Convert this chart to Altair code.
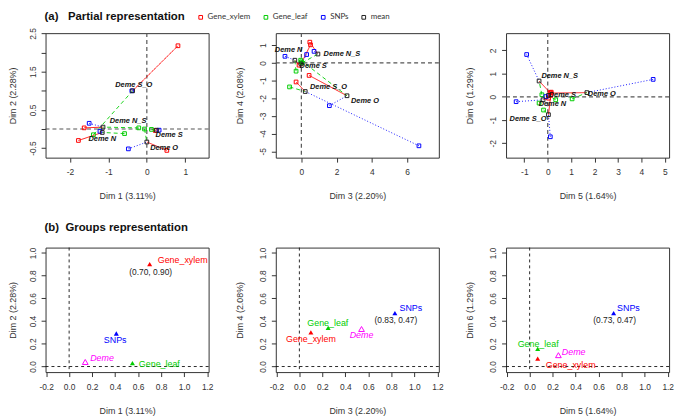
import altair as alt
import pandas as pd

FONT = "Liberation Sans"
W, H = 165, 126

# ---------------- data: (a) partial representation ----------------
demes = ["Deme N", "Deme S", "Deme O", "Deme N_S", "Deme S_O"]
groups = ["Gene_xylem", "Gene_leaf", "SNPs"]
group_colors = ["#FF0000", "#00CD00", "#0000FF"]
group_dashes = [[1, 0], [4, 3], [1, 2]]

# Dim 1 / Dim 2
d12_mean_x = [-1.16, 0.25, 0.00, -1.14, -0.37]
d12_mean_y = [-0.09, -0.03, -0.34, 0.05, 1.00]
d12_xylem_x = [-1.78, 0.22, 0.52, -1.63, 0.81]
d12_xylem_y = [-0.30, -0.04, -0.56, 0.03, 2.18]
d12_leaf_x = [-0.58, 0.12, -0.06, -0.21, -1.39]
d12_leaf_y = [-0.12, -0.01, 0.00, 0.03, -0.15]
d12_snps_x = [-1.22, 0.32, -0.48, -1.50, -0.39]
d12_snps_y = [-0.06, -0.03, -0.52, 0.15, 1.00]
d12_lab_x = [-1.16, 0.58, 0.45, -0.49, -0.34]
d12_lab_y = [-0.26, -0.17, -0.50, 0.20, 1.15]

# Dim 3 / Dim 4
d34_mean_x = [-0.37, -0.02, 2.59, 0.94, 0.22]
d34_mean_y = [0.15, -0.06, -1.86, 0.50, -1.62]
d34_xylem_x = [-0.13, 0.52, 0.44, 0.48, -0.30]
d34_xylem_y = [-0.13, 1.02, -0.71, 1.17, -1.08]
d34_leaf_x = [-0.30, 0.00, -0.04, 0.04, -0.67]
d34_leaf_y = [-0.47, 0.06, 0.15, 0.00, -1.36]
d34_snps_x = [-0.93, 0.30, 1.59, 0.72, 6.67]
d34_snps_y = [0.37, 0.47, -2.42, 0.65, -4.69]
d34_lab_x = [-0.72, 0.67, 3.61, 2.30, 1.54]
d34_lab_y = [0.71, -0.19, -2.18, 0.48, -1.34]

# Dim 5 / Dim 6
d56_mean_x = [-0.20, 0.03, 1.67, -0.37, 0.03]
d56_mean_y = [-0.13, 0.06, 0.18, 0.68, -0.77]
d56_xylem_x = [0.03, 0.15, 0.13, 0.10, 0.13]
d56_xylem_y = [-0.06, 0.20, 0.16, 0.18, 0.06]
d56_leaf_x = [-0.37, 0.34, 1.04, -0.25, -0.18]
d56_leaf_y = [-0.27, -0.13, -0.09, 0.09, -0.57]
d56_snps_x = [-1.35, -0.08, 4.50, -0.90, 0.11]
d56_snps_y = [-0.21, 0.01, 0.75, 1.82, -1.72]
d56_lab_x = [0.20, 0.62, 2.31, 0.51, -0.84]
d56_lab_y = [-0.31, 0.09, 0.14, 0.89, -0.94]

# ---------------- data: (b) groups representation ----------------
b_groups = ["Gene_xylem", "Gene_leaf", "SNPs", "Deme"]
b_colors = ["#FF0000", "#00CD00", "#0000FF", "#FF00FF"]

b12_x = [0.70, 0.55, 0.41, 0.14]
b12_y = [0.90, 0.03, 0.29, 0.04]
b12_lab_x = [0.77, 0.606, 0.40, 0.183]
b12_lab_y = [0.94, 0.023, 0.236, 0.072]
b12_lab_pos = ["right", "right", "center", "right"]
b12_coord = "Gene_xylem"

b34_x = [0.10, 0.25, 0.83, 0.54]
b34_y = [0.30, 0.34, 0.47, 0.33]
b34_lab_x = [0.10, 0.247, 0.87, 0.54]
b34_lab_y = [0.244, 0.38, 0.51, 0.28]
b34_lab_pos = ["center", "center", "right", "center"]
b34_coord = "SNPs"

b56_x = [0.07, 0.07, 0.73, 0.25]
b56_y = [0.07, 0.155, 0.47, 0.10]
b56_lab_x = [0.14, 0.074, 0.76, 0.28]
b56_lab_y = [0.014, 0.195, 0.51, 0.124]
b56_lab_pos = ["right", "center", "right", "right"]
b56_coord = "SNPs"

b_ticks = [-0.2, 0.0, 0.2, 0.4, 0.6, 0.8, 1.0, 1.2]
b_yticks = [0.0, 0.2, 0.4, 0.6, 0.8, 1.0]

NBSP = "\u00a0"
title_a = "(a)" + NBSP * 3 + "Partial representation"
title_b = "(b)" + NBSP * 2 + "Groups representation"


def lab_expr(fmt, skip_int=False):
    core = f"(datum.value < 0 ? '-' : '') + format(abs(datum.value), '{fmt}')"
    if skip_int:
        return f"abs(datum.value % 1) < 0.001 ? '' : {core}"
    return core


def encs(xdom, ydom, xvals, yvals, xfmt, yfmt, xtitle, ytitle, ytx, yskip=False):
    xe = alt.X("x:Q", scale=alt.Scale(domain=xdom, nice=False, zero=False),
               axis=alt.Axis(values=xvals, labelExpr=lab_expr(xfmt), title=xtitle,
                             titleX=W / 2, titleY=38.5))
    ye = alt.Y("y:Q", scale=alt.Scale(domain=ydom, nice=False, zero=False),
               axis=alt.Axis(values=yvals, labelExpr=lab_expr(yfmt, yskip), title=ytitle,
                             titleX=ytx, titleY=H / 2))
    return xe, ye


legend_a = alt.Legend(orient="none", legendX=153, legendY=-20, direction="horizontal",
                      title=None, symbolType="square", symbolSize=14, symbolStrokeWidth=1,
                      labelFont="Lato", labelFontSize=8, labelColor="#333",
                      columnPadding=11, labelOffset=3, padding=0)


def partial_panel(mx, my, pxy, lx, ly, xe, ye, with_legend, title=None):
    seg_rows, pt_rows = [], []
    for g, (gx, gy) in zip(groups, pxy):
        for i, d in enumerate(demes):
            seg_rows.append(dict(group=g, deme=d, x=gx[i], y=gy[i], mx=mx[i], my=my[i]))
            pt_rows.append(dict(group=g, x=gx[i], y=gy[i]))
    for i, d in enumerate(demes):
        pt_rows.append(dict(group="mean", x=mx[i], y=my[i]))
    segs = pd.DataFrame(seg_rows)
    pts = pd.DataFrame(pt_rows)
    labs = pd.DataFrame({"deme": demes, "x": lx, "y": ly})

    vline = alt.Chart(pd.DataFrame({"x": [0]})).mark_rule(
        color="#555", strokeDash=[4, 3], strokeWidth=1.2).encode(x=xe)
    hline = alt.Chart(pd.DataFrame({"y": [0]})).mark_rule(
        color="#555", strokeDash=[4, 3], strokeWidth=1.2).encode(y=ye)
    seg = alt.Chart(segs).mark_rule(strokeWidth=0.9).encode(
        x=xe, y=ye, x2=alt.X2("mx"), y2=alt.Y2("my"),
        stroke=alt.Stroke("group:N", scale=alt.Scale(domain=groups, range=group_colors), legend=None),
        strokeDash=alt.StrokeDash("group:N", scale=alt.Scale(domain=groups, range=group_dashes), legend=None),
    )
    pt = alt.Chart(pts).mark_point(shape="square", filled=False, size=14, strokeWidth=1, opacity=1).encode(
        x=xe, y=ye,
        color=alt.Color("group:N",
                        scale=alt.Scale(domain=groups + ["mean"], range=group_colors + ["#222222"]),
                        legend=legend_a if with_legend else None),
    )
    txt = alt.Chart(labs).mark_text(font=FONT, fontSize=7.5, fontWeight="bold", fontStyle="italic",
                                    color="#111").encode(x=xe, y=ye, text="deme:N")
    layers = [vline, hline, seg, pt, txt]
    if title:
        layers.append(alt.Chart(pd.DataFrame({"t": [title]})).mark_text(
            font=FONT, fontSize=11.5, fontWeight="bold", align="left", baseline="top", color="#111"
        ).encode(x=alt.value(-1), y=alt.value(-22), text="t:N"))
    return alt.layer(*layers).properties(width=W, height=H)


def group_panel(px, py, lx, ly, lpos, coord, xe, ye, title=None):
    df = pd.DataFrame({"group": b_groups, "x": px, "y": py, "col": b_colors})
    lab = pd.DataFrame({"group": b_groups, "x": lx, "y": ly, "pos": lpos, "col": b_colors})
    cd = df[df["group"] == coord].copy()
    cd["t"] = [f"({a:.2f}, {b:.2f})" for a, b in zip(cd["x"], cd["y"])]

    vline = alt.Chart(pd.DataFrame({"x": [0]})).mark_rule(
        color="#111", strokeDash=[3, 3], strokeWidth=0.9).encode(x=xe)
    hline = alt.Chart(pd.DataFrame({"y": [0]})).mark_rule(
        color="#111", strokeDash=[3, 3], strokeWidth=0.9).encode(y=ye)
    filled = alt.Chart(df).transform_filter("datum.group != 'Deme'").mark_point(
        shape="triangle-up", filled=True, size=26, opacity=1).encode(
        x=xe, y=ye, color=alt.Color("col:N", scale=None))
    hollow = alt.Chart(df).transform_filter("datum.group == 'Deme'").mark_point(
        shape="triangle-up", filled=False, size=34, strokeWidth=1, opacity=1).encode(
        x=xe, y=ye, color=alt.Color("col:N", scale=None))
    layers = [vline, hline, filled, hollow]
    for is_deme in (False, True):
        for pos in ("right", "center"):
            cond = ("datum.group == 'Deme'" if is_deme else "datum.group != 'Deme'") + f" && datum.pos == '{pos}'"
            layers.append(alt.Chart(lab).transform_filter(cond).mark_text(
                font=FONT, fontSize=9, align="left" if pos == "right" else "center",
                fontStyle="italic" if is_deme else "normal").encode(
                x=xe, y=ye, text="group:N", color=alt.Color("col:N", scale=None)))
    layers.append(alt.Chart(cd).mark_text(font=FONT, fontSize=8.5, dy=7.5, dx=1, color="#222").encode(
        x=xe, y=ye, text="t:N"))
    if title:
        layers.append(alt.Chart(pd.DataFrame({"t": [title]})).mark_text(
            font=FONT, fontSize=11.5, fontWeight="bold", align="left", baseline="middle", color="#111"
        ).encode(x=alt.value(-1), y=alt.value(-20), text="t:N"))
    return alt.layer(*layers).properties(width=W, height=H)


# ---- row (a)
xe1, ye1 = encs([-2.635, 1.607], [-0.75, 2.51], [-2, -1, 0, 1], [-0.5, 0, 0.5, 1, 1.5, 2, 2.5],
                "d", ".1f", "Dim 1 (3.11%)", "Dim 2 (2.28%)", -33.5, yskip=True)
xe2, ye2 = encs([-1.45, 7.80], [-5.36, 1.68], [0, 2, 4, 6], [-5, -4, -3, -2, -1, 0, 1],
                "d", "d", "Dim 3 (2.20%)", "Dim 4 (2.08%)", -37)
xe3, ye3 = encs([-1.78, 5.18], [-2.62, 2.74], [-1, 0, 1, 2, 3, 4, 5], [-2, -1, 0, 1, 2],
                "d", "d", "Dim 5 (1.64%)", "Dim 6 (1.29%)", -37)

p1 = partial_panel(d12_mean_x, d12_mean_y,
                   [(d12_xylem_x, d12_xylem_y), (d12_leaf_x, d12_leaf_y), (d12_snps_x, d12_snps_y)],
                   d12_lab_x, d12_lab_y, xe1, ye1, True, title_a)
p2 = partial_panel(d34_mean_x, d34_mean_y,
                   [(d34_xylem_x, d34_xylem_y), (d34_leaf_x, d34_leaf_y), (d34_snps_x, d34_snps_y)],
                   d34_lab_x, d34_lab_y, xe2, ye2, False)
p3 = partial_panel(d56_mean_x, d56_mean_y,
                   [(d56_xylem_x, d56_xylem_y), (d56_leaf_x, d56_leaf_y), (d56_snps_x, d56_snps_y)],
                   d56_lab_x, d56_lab_y, xe3, ye3, False)

# ---- row (b)
bx_dom, by_dom = [-0.205, 1.212], [-0.049, 1.046]
xe4, ye4 = encs(bx_dom, by_dom, b_ticks, b_yticks, ".1f", ".1f", "Dim 1 (3.11%)", "Dim 2 (2.28%)", -33.5)
xe5, ye5 = encs(bx_dom, by_dom, b_ticks, b_yticks, ".1f", ".1f", "Dim 3 (2.20%)", "Dim 4 (2.08%)", -37)
xe6, ye6 = encs(bx_dom, by_dom, b_ticks, b_yticks, ".1f", ".1f", "Dim 5 (1.64%)", "Dim 6 (1.29%)", -37)

p4 = group_panel(b12_x, b12_y, b12_lab_x, b12_lab_y, b12_lab_pos, b12_coord, xe4, ye4, title_b)
p5 = group_panel(b34_x, b34_y, b34_lab_x, b34_lab_y, b34_lab_pos, b34_coord, xe5, ye5)
p6 = group_panel(b56_x, b56_y, b56_lab_x, b56_lab_y, b56_lab_pos, b56_coord, xe6, ye6)

chart = alt.ConcatChart(
    concat=[p1, p2, p3, p4, p5, p6], columns=3, bounds="flush",
    spacing=alt.RowColnumber(row=91, column=68),
).resolve_scale(x="independent", y="independent").properties(
    padding={"left": 0, "top": 0, "right": 2, "bottom": 0}
).configure_view(
    stroke="#333", strokeWidth=1
).configure_axis(
    grid=False, domain=False, ticks=True, tickColor="#333", tickSize=4.5, tickWidth=1,
    labelFont=FONT, labelFontSize=8.5, labelColor="#333", labelOverlap=False, labelFlush=False,
    titleFont=FONT, titleFontSize=9, titleFontWeight="normal", titleColor="#333",
    titleAlign="center", titleBaseline="middle"
).configure_axisX(
    labelPadding=6
).configure_axisY(
    labelAngle=270, labelAlign="center", labelBaseline="bottom", labelPadding=4, titleAngle=270
)

chart.save("out.html", embed_options={"renderer": "svg", "actions": False})
